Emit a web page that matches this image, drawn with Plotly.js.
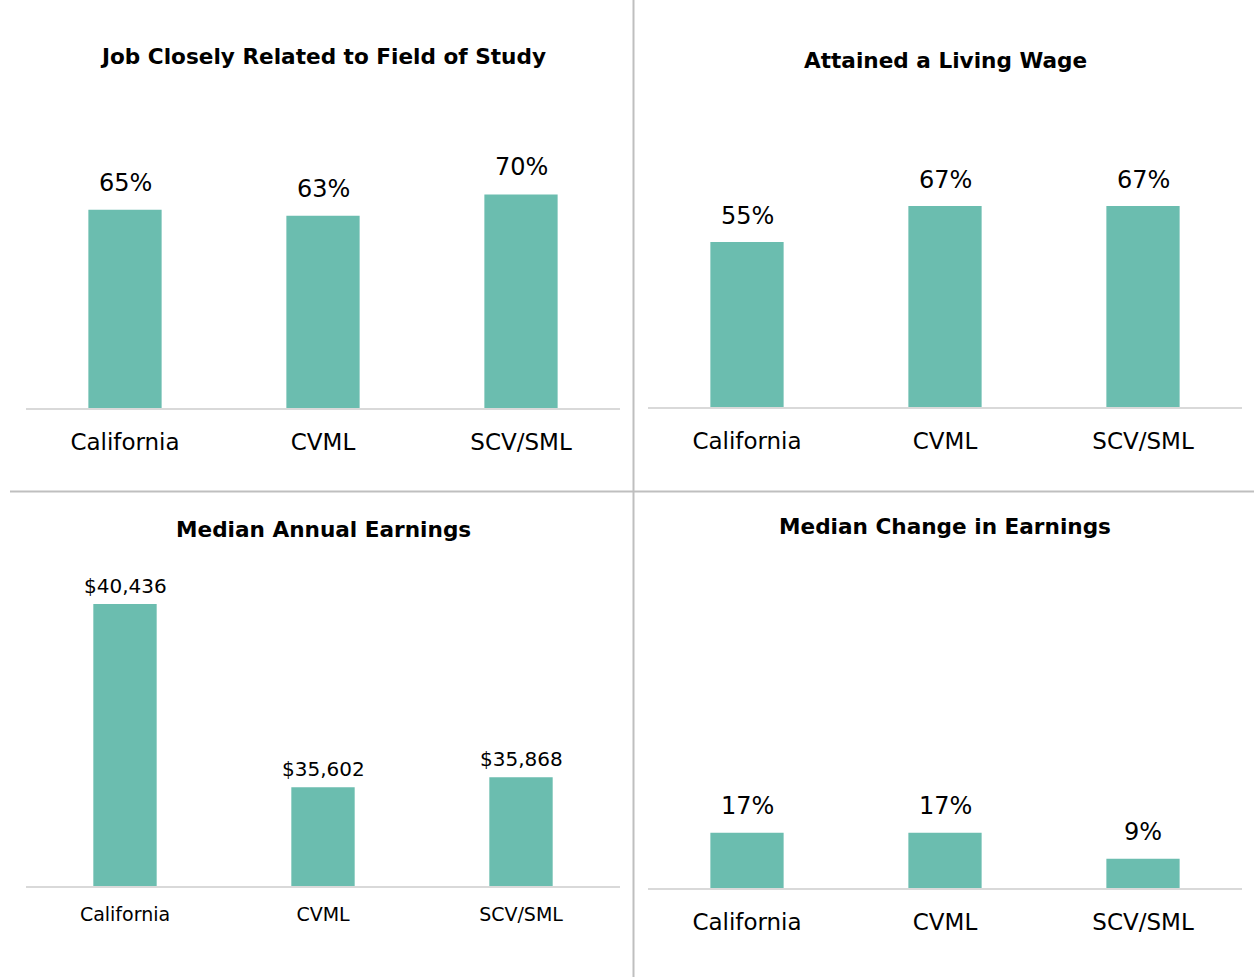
<!DOCTYPE html>
<html>
<head>
<meta charset="utf-8">
<script src="https://cdn.plot.ly/plotly-3.0.1.min.js"></script>
<style>html,body{margin:0;padding:0;background:#fff;}#chart{width:1254px;height:977px;}</style>
</head>
<body>
<div id="chart"></div>
<script>
// ---- data ----
const categories = ["California", "CVML", "SCV/SML"];
const titles = ["Job Closely Related to Field of Study", "Attained a Living Wage", "Median Annual Earnings", "Median Change in Earnings"];
const jobRelated = [0.65, 0.63, 0.70];
const livingWage = [0.55, 0.67, 0.67];
const annualEarnings = [40436, 35602, 35868];
const changeEarnings = [0.17, 0.17, 0.09];
const jobRelatedLabels = ["65%", "63%", "70%"];
const livingWageLabels = ["55%", "67%", "67%"];
const annualEarningsLabels = ["$40,436", "$35,602", "$35,868"];
const changeEarningsLabels = ["17%", "17%", "9%"];

const W = 1254, H = 977;
const px = x => x / W;
const py = y => 1 - y / H;
const barColor = "#6BBDAF";
const FONT = "'DejaVu Sans', sans-serif";

const panels = [
  {vals: jobRelated, labels: jobRelatedLabels, x0: 26, x1: 620, base: 408, top: 103, range: [0, 1], width: 0.37, shift: 27, tickSize: 23, labelSize: 24, tickStand: 12, title: titles[0], titleY: 56},
  {vals: livingWage, labels: livingWageLabels, x0: 648, x1: 1242, base: 407, top: 107, range: [0, 1], width: 0.37, shift: 26, tickSize: 23, labelSize: 24, tickStand: 12, title: titles[1], titleY: 61},
  {vals: annualEarnings, labels: annualEarningsLabels, x0: 26, x1: 620, base: 886, top: 560, range: [33000, 41597], width: 0.32, shift: 18, tickSize: 19, labelSize: 20, tickStand: 10, title: titles[2], titleY: 529},
  {vals: changeEarnings, labels: changeEarningsLabels, x0: 648, x1: 1242, base: 888, top: 563, range: [0, 1], width: 0.37, shift: 27, tickSize: 23, labelSize: 24, tickStand: 12, title: titles[3], titleY: 526}
];

const data = [];
const layout = {
  width: W, height: H,
  margin: {l: 0, r: 0, t: 0, b: 0},
  paper_bgcolor: "#fff", plot_bgcolor: "rgba(0,0,0,0)",
  showlegend: false,
  font: {family: FONT, color: "#000"},
  annotations: [],
  shapes: [
    {type: "line", xref: "paper", yref: "paper", x0: px(633.5), x1: px(633.5), y0: 0, y1: 1, line: {color: "#BFBFBF", width: 2}},
    {type: "line", xref: "paper", yref: "paper", x0: px(10), x1: 1, y0: py(491.5), y1: py(491.5), line: {color: "#BFBFBF", width: 2}}
  ]
};

panels.forEach((p, i) => {
  const n = i + 1;
  const xa = n === 1 ? "x" : "x" + n;
  const ya = n === 1 ? "y" : "y" + n;
  const xk = n === 1 ? "xaxis" : "xaxis" + n;
  const yk = n === 1 ? "yaxis" : "yaxis" + n;
  data.push({
    type: "bar", x: categories, y: p.vals, xaxis: xa, yaxis: ya,
    width: p.width, marker: {color: barColor}, hoverinfo: "skip"
  });
  layout[xk] = {
    domain: [px(p.x0), px(p.x1)], anchor: ya,
    showline: true, linecolor: "#D9D9D9", linewidth: 2,
    showgrid: false, zeroline: false, ticks: "",
    ticklabelstandoff: p.tickStand,
    tickfont: {family: FONT, size: p.tickSize, color: "#000"},
    fixedrange: true
  };
  layout[yk] = {
    domain: [py(p.base), py(p.top)], anchor: xa,
    range: p.range, visible: false, showgrid: false, zeroline: false, fixedrange: true
  };
  categories.forEach((c, j) => {
    layout.annotations.push({
      xref: xa, yref: ya, x: c, y: p.vals[j], text: p.labels[j],
      showarrow: false, yanchor: "middle", yshift: p.shift,
      font: {family: FONT, size: p.labelSize, color: "#000"}
    });
  });
  layout.annotations.push({
    xref: "paper", yref: "paper", x: px((p.x0 + p.x1) / 2), y: py(p.titleY),
    text: "<b>" + p.title + "</b>", showarrow: false, xanchor: "center", yanchor: "middle",
    font: {family: FONT, size: 21.6, color: "#000"}
  });
});

Plotly.newPlot("chart", data, layout, {displayModeBar: false, staticPlot: true});
</script>
</body>
</html>
